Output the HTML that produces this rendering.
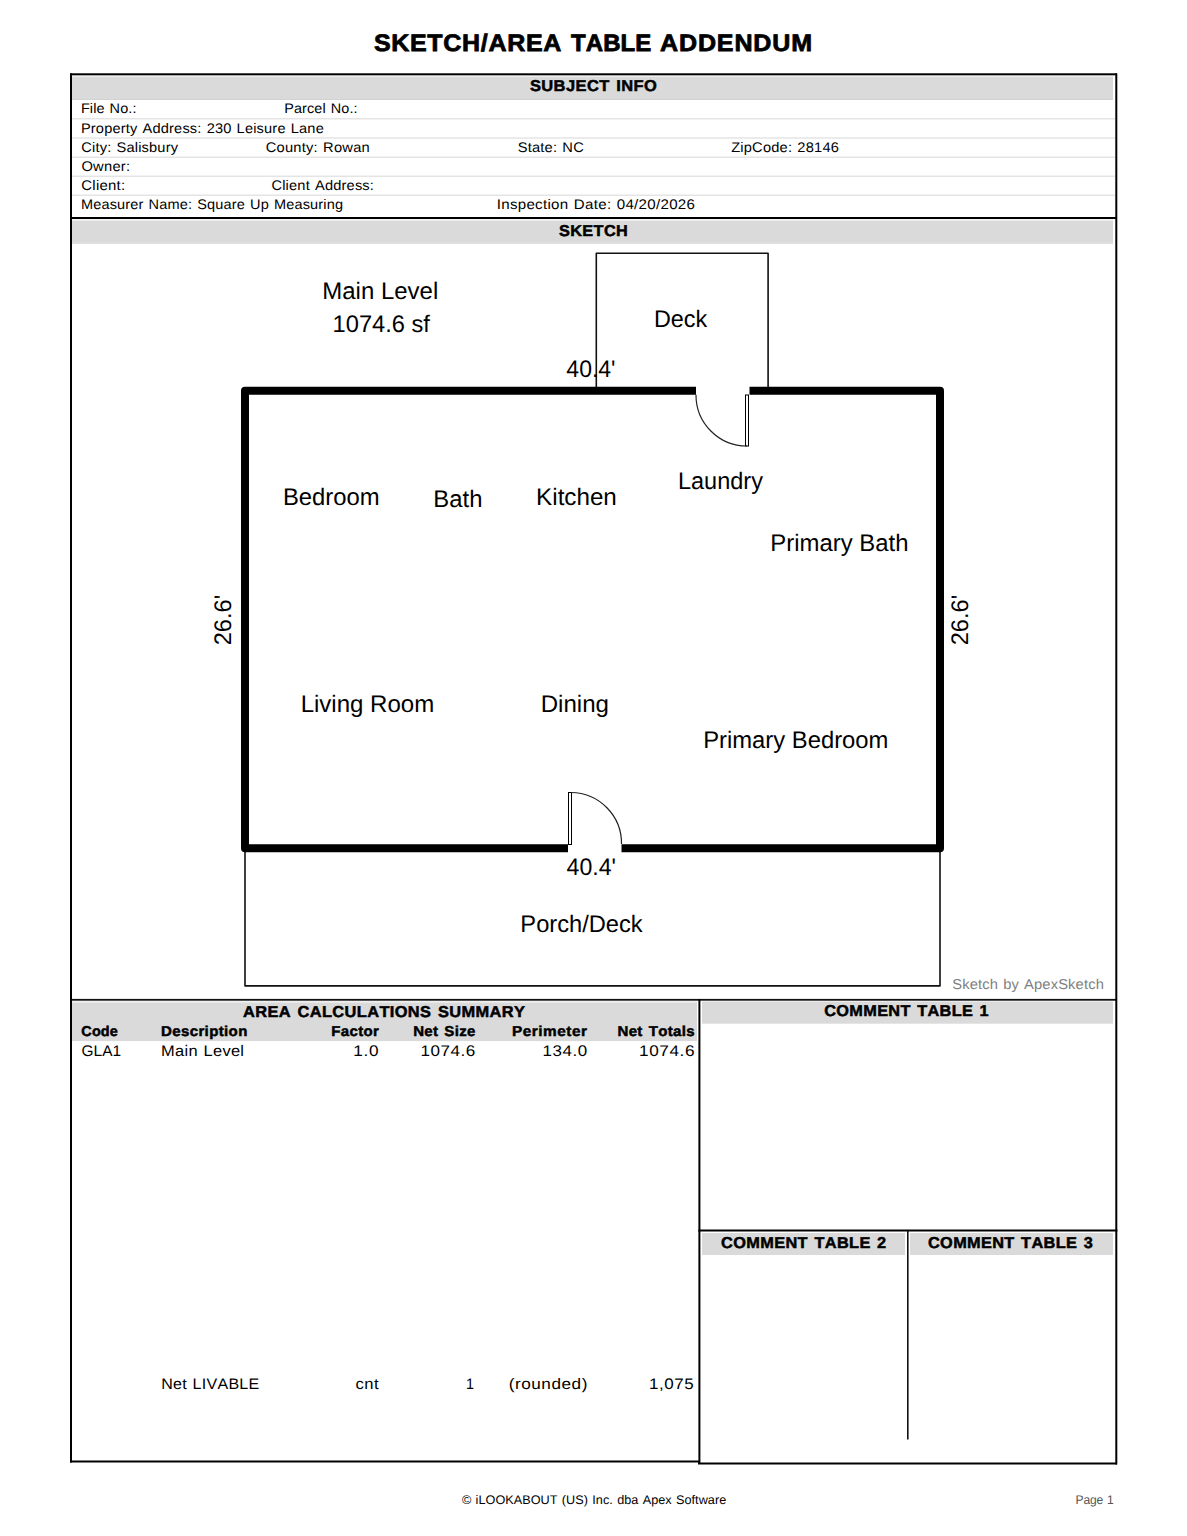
<!DOCTYPE html>
<html><head><meta charset="utf-8"><title>Sketch/Area Table Addendum</title>
<style>
html,body{margin:0;padding:0;background:#fff;}
svg{display:block;}
text{font-kerning:none;}
</style></head>
<body>
<svg width="1187" height="1536" viewBox="0 0 1187 1536" font-family="'Liberation Sans', sans-serif" text-rendering="geometricPrecision">
<rect x="0" y="0" width="1187" height="1536" fill="#fff"/>
<text transform="translate(373.88,50.60) scale(1.0494,1)" font-size="23.838" font-weight="bold" stroke="#000" stroke-width="0.762" letter-spacing="0.658">SKETCH/AREA</text>
<text transform="translate(571.03,50.60) scale(1.0060,1)" font-size="23.838" font-weight="bold" stroke="#000" stroke-width="0.795" letter-spacing="0.095">TABLE</text>
<text transform="translate(660.08,50.60) scale(1.0516,1)" font-size="23.838" font-weight="bold" stroke="#000" stroke-width="0.761" letter-spacing="0.785">ADDENDUM</text>
<rect x="72" y="75.3" width="1041" height="1.5" fill="#efefef"/>
<rect x="72" y="76.8" width="1041" height="22.2" fill="#dadada"/>
<rect x="72" y="99" width="1041" height="1" fill="#d2d2d2"/>
<rect x="72" y="118.2" width="1043" height="1.2" fill="#dedede"/>
<rect x="72" y="137.4" width="1043" height="1.2" fill="#dedede"/>
<rect x="72" y="156.6" width="1043" height="1.2" fill="#dedede"/>
<rect x="72" y="175.6" width="1043" height="1.2" fill="#dedede"/>
<rect x="72" y="194.6" width="1043" height="1.2" fill="#dedede"/>
<text transform="translate(529.88,90.95) scale(1.0497,1)" font-size="15.698" font-weight="bold" stroke="#000" stroke-width="0.476" letter-spacing="0.402" word-spacing="1.495">SUBJECT INFO</text>
<text transform="translate(80.91,113.20) scale(1.0358,1)" font-size="13.954" letter-spacing="0.115" word-spacing="0.808">File No.:</text>
<text transform="translate(284.22,113.20) scale(1.0338,1)" font-size="13.954" letter-spacing="0.117" word-spacing="0.810">Parcel No.:</text>
<text transform="translate(80.90,132.60) scale(1.0479,1)" font-size="13.954" letter-spacing="0.165" word-spacing="0.799">Property Address: 230 Leisure Lane</text>
<text transform="translate(81.36,151.80) scale(1.0494,1)" font-size="13.954" letter-spacing="0.160" word-spacing="0.798">City: Salisbury</text>
<text transform="translate(265.65,151.80) scale(1.0546,1)" font-size="13.954" letter-spacing="0.218" word-spacing="0.794">County: Rowan</text>
<text transform="translate(517.63,151.80) scale(1.0530,1)" font-size="13.954" letter-spacing="0.201" word-spacing="0.795">State: NC</text>
<text transform="translate(731.13,151.80) scale(1.0511,1)" font-size="13.954" letter-spacing="0.198" word-spacing="0.797">ZipCode: 28146</text>
<text transform="translate(81.40,170.70) scale(1.0553,1)" font-size="13.954" letter-spacing="0.243">Owner:</text>
<text transform="translate(81.34,189.60) scale(1.0715,1)" font-size="13.954" letter-spacing="0.225">Client:</text>
<text transform="translate(271.46,189.60) scale(1.0493,1)" font-size="13.954" letter-spacing="0.167" word-spacing="0.798">Client Address:</text>
<text transform="translate(80.91,208.80) scale(1.0416,1)" font-size="13.954" letter-spacing="0.158" word-spacing="0.804">Measurer Name: Square Up Measuring</text>
<text transform="translate(496.71,208.80) scale(1.0831,1)" font-size="13.954" letter-spacing="0.274" word-spacing="0.773">Inspection Date: 04/20/2026</text>
<rect x="70" y="217" width="1047" height="2" fill="#000"/>
<rect x="72" y="219.3" width="1041" height="1.5" fill="#efefef"/>
<rect x="72" y="220.8" width="1041" height="21.7" fill="#dadada"/>
<rect x="72" y="242.5" width="1041" height="1.2" fill="#d2d2d2"/>
<text transform="translate(558.98,235.75) scale(1.0373,1)" font-size="15.698" font-weight="bold" stroke="#000" stroke-width="0.482" letter-spacing="0.371">SKETCH</text>
<g fill="none" stroke="#111" stroke-width="1.6" stroke-linejoin="round">
<polyline points="596.3,390.7 596.3,253.3 768.1,253.3 768.1,390.7"/>
<polyline points="245,848.3 245,985.9 940,985.9 940,848.3"/>
</g>
<g fill="none" stroke="#000" stroke-width="8" stroke-linejoin="round">
<polyline points="696,390.7 245,390.7 245,848.3 568,848.3"/>
<polyline points="749.5,390.7 940,390.7 940,848.3 621.5,848.3"/>
</g>
<g fill="#fff" stroke="#000" stroke-width="1">
<rect x="745.5" y="395" width="3" height="51"/>
<rect x="568.5" y="792.5" width="3" height="52"/>
</g>
<g fill="none" stroke="#222" stroke-width="1.2">
<path d="M696,394.7 A51,51 0 0 0 747,446"/>
<path d="M571,792.5 A51,51 0 0 1 621.5,844"/>
</g>
<text transform="translate(322.33,299.00) scale(0.9999,1)" font-size="23.983">Main Level</text>
<text transform="translate(332.60,331.70) scale(0.9868,1)" font-size="23.983">1074.6 sf</text>
<text transform="translate(566.37,376.50) scale(0.9576,1)" font-size="23.983">40.4&#x27;</text>
<text transform="translate(653.88,326.70) scale(0.9752,1)" font-size="23.983">Deck</text>
<text transform="translate(282.94,504.90) scale(0.9940,1)" font-size="23.983">Bedroom</text>
<text transform="translate(433.34,507.00) scale(0.9954,1)" font-size="23.983">Bath</text>
<text transform="translate(536.11,504.90) scale(1.0096,1)" font-size="23.983">Kitchen</text>
<text transform="translate(677.97,489.10) scale(0.9805,1)" font-size="23.983">Laundry</text>
<text transform="translate(770.34,550.50) scale(0.9972,1)" font-size="23.983">Primary Bath</text>
<text transform="translate(300.63,711.50) scale(1.0027,1)" font-size="23.983">Living Room</text>
<text transform="translate(540.72,711.50) scale(1.0050,1)" font-size="23.983">Dining</text>
<text transform="translate(703.15,748.40) scale(0.9933,1)" font-size="23.983">Primary Bedroom</text>
<text transform="translate(566.57,875.00) scale(0.9636,1)" font-size="23.983">40.4&#x27;</text>
<text transform="translate(520.36,931.70) scale(0.9875,1)" font-size="23.983">Porch/Deck</text>
<text transform="translate(230.90,645.29) rotate(-90) scale(0.9868,1)" font-size="23.983">26.6&#x27;</text>
<text transform="translate(968.00,645.29) rotate(-90) scale(0.9868,1)" font-size="23.983">26.6&#x27;</text>
<text transform="translate(952.23,989.00) scale(1.0343,1)" font-size="14.244" fill="#808080" letter-spacing="0.133" word-spacing="0.826">Sketch by ApexSketch</text>
<rect x="70" y="998.9" width="1047" height="1.8" fill="#111"/>
<rect x="72" y="1001" width="625" height="1.5" fill="#efefef"/>
<rect x="72" y="1002.5" width="625" height="38.6" fill="#dadada"/>
<rect x="698.4" y="999" width="2" height="465" fill="#000"/>
<rect x="702" y="1001.5" width="411" height="22.2" fill="#dadada"/>
<text transform="translate(242.94,1017.05) scale(1.0446,1)" font-size="15.698" font-weight="bold" stroke="#000" stroke-width="0.479" letter-spacing="0.375" word-spacing="1.503">AREA CALCULATIONS SUMMARY</text>
<text transform="translate(81.36,1036.05) scale(1.0137,1)" font-size="14.244" font-weight="bold" stroke="#000" stroke-width="0.493" letter-spacing="0.127">Code</text>
<text transform="translate(161.04,1036.05) scale(1.0566,1)" font-size="14.244" font-weight="bold" stroke="#000" stroke-width="0.473" letter-spacing="0.336">Description</text>
<text transform="translate(331.25,1036.05) scale(1.0524,1)" font-size="14.244" font-weight="bold" stroke="#000" stroke-width="0.475" letter-spacing="0.345">Factor</text>
<text transform="translate(413.15,1036.05) scale(1.0540,1)" font-size="14.244" font-weight="bold" stroke="#000" stroke-width="0.474" letter-spacing="0.323" word-spacing="1.351">Net Size</text>
<text transform="translate(512.02,1036.05) scale(1.0779,1)" font-size="14.244" font-weight="bold" stroke="#000" stroke-width="0.464" letter-spacing="0.477">Perimeter</text>
<text transform="translate(617.44,1036.05) scale(1.0560,1)" font-size="14.244" font-weight="bold" stroke="#000" stroke-width="0.473" letter-spacing="0.325" word-spacing="1.349">Net Totals</text>
<text transform="translate(81.52,1056.30) scale(1.0022,1)" font-size="15.407" letter-spacing="0.015">GLA1</text>
<text transform="translate(161.05,1056.30) scale(1.0672,1)" font-size="15.407" letter-spacing="0.272" word-spacing="0.866">Main Level</text>
<text transform="translate(353.29,1056.30) scale(1.1177,1)" font-size="15.407" letter-spacing="0.557">1.0</text>
<text transform="translate(420.50,1056.30) scale(1.1081,1)" font-size="15.407" letter-spacing="0.475">1074.6</text>
<text transform="translate(542.61,1056.30) scale(1.1028,1)" font-size="15.407" letter-spacing="0.462">134.0</text>
<text transform="translate(639.09,1056.30) scale(1.1167,1)" font-size="15.407" letter-spacing="0.509">1074.6</text>
<text transform="translate(161.28,1389.20) scale(1.0522,1)" font-size="15.262" letter-spacing="0.235" word-spacing="0.870">Net LIVABLE</text>
<text transform="translate(355.39,1389.20) scale(1.0896,1)" font-size="15.262" letter-spacing="0.434">cnt</text>
<text transform="translate(465.90,1389.20) scale(0.9422,1)" font-size="15.262">1</text>
<text transform="translate(508.63,1389.20) scale(1.1256,1)" font-size="15.262" letter-spacing="0.483">(rounded)</text>
<text transform="translate(649.11,1389.20) scale(1.1127,1)" font-size="15.262" letter-spacing="0.496">1,075</text>
<text transform="translate(824.28,1015.95) scale(1.0381,1)" font-size="15.698" font-weight="bold" stroke="#000" stroke-width="0.482" letter-spacing="0.321" word-spacing="1.512">COMMENT TABLE 1</text>
<rect x="698.4" y="1229.5" width="419" height="2" fill="#000"/>
<rect x="702" y="1233" width="203" height="22" fill="#dadada"/>
<rect x="910" y="1233" width="203" height="22" fill="#dadada"/>
<rect x="907" y="1231" width="1.6" height="208.5" fill="#111"/>
<text transform="translate(721.08,1247.75) scale(1.0410,1)" font-size="15.698" font-weight="bold" stroke="#000" stroke-width="0.480" letter-spacing="0.345" word-spacing="1.508">COMMENT TABLE 2</text>
<text transform="translate(927.98,1247.75) scale(1.0397,1)" font-size="15.698" font-weight="bold" stroke="#000" stroke-width="0.481" letter-spacing="0.334" word-spacing="1.510">COMMENT TABLE 3</text>
<rect x="70" y="73.3" width="1047" height="2" fill="#000"/>
<rect x="70" y="73.3" width="2" height="1389.2" fill="#000"/>
<rect x="1115.3" y="73.3" width="2" height="1391.2" fill="#000"/>
<rect x="70" y="1460.5" width="630" height="2" fill="#000"/>
<rect x="698" y="1462.5" width="419" height="2" fill="#000"/>
<text transform="translate(461.91,1503.80) scale(1.0118,1)" font-size="12.500" letter-spacing="0.041" word-spacing="0.741">© iLOOKABOUT (US) Inc. dba Apex Software</text>
<text transform="translate(1075.51,1503.60) scale(0.9652,1)" font-size="12.500" fill="#555" letter-spacing="-0.147" word-spacing="0.777">Page 1</text>
</svg>
</body></html>
